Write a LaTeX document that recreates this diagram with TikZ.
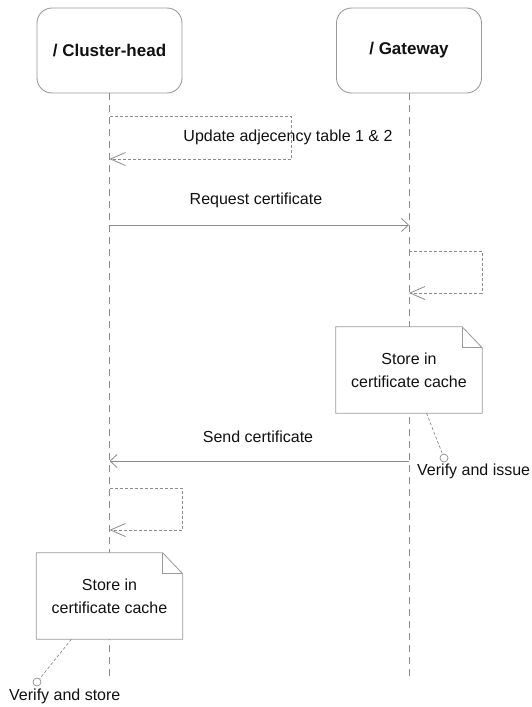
\documentclass[tikz,border=0pt]{standalone}
\usepackage{fontspec}
\setmainfont{Liberation Sans}
\usetikzlibrary{arrows.meta,calc}

\definecolor{linegray}{HTML}{8C8C8C}
\definecolor{boxgray}{HTML}{9A9A9A}
\definecolor{txt}{HTML}{111111}

\tikzset{
  lifehead/.style={draw=boxgray, line width=0.9pt, rounded corners=15pt,
    minimum width=145pt, minimum height=85pt, inner sep=0pt,
    font=\fontsize{17}{20}\selectfont\bfseries, text=txt},
  lifeline/.style={draw=linegray, line width=0.8pt, dash pattern=on 7pt off 5pt},
  msg/.style={draw=linegray, line width=0.8pt,
    -{Straight Barb[length=7pt,width=13pt,line width=0.8pt]}},
  selfmsg/.style={draw=linegray, line width=0.8pt, dash pattern=on 3pt off 2pt,
    -{Straight Barb[length=15pt,width=13pt,line width=0.8pt]}},
  label/.style={font=\fontsize{16}{23}\selectfont, text=txt, inner sep=0pt},
  notebody/.style={minimum width=146pt, minimum height=86pt, inner sep=0pt,
    align=center, font=\fontsize{16}{23}\selectfont, text=txt},
  noteline/.style={draw=boxgray, line width=0.8pt},
  anchorline/.style={draw=linegray, line width=0.7pt, dash pattern=on 3pt off 2pt},
  pin/.style={circle, draw=linegray, line width=0.7pt, fill=white,
    minimum size=8pt, inner sep=0pt}
}

\begin{document}
\begin{tikzpicture}[x=1pt, y=-1pt]
  \useasboundingbox (0,0) rectangle (532,707);

  % lifeline heads
  \node[lifehead] (ch) at (109.5,50.5) {/ Cluster-head};
  \node[lifehead] (gw) at (409,50.5) {/ Gateway};

  % lifelines
  \coordinate (chEnd) at (109.5,678);
  \coordinate (gwEnd) at (409,680);
  \draw[lifeline] (ch.south) -- (chEnd);
  \draw[lifeline] (gw.south) -- (gwEnd);

  % self message on the cluster-head: adjacency update
  \coordinate (u1) at (109.5,116);
  \coordinate (u2) at (109.5,159);
  \draw[selfmsg] (u1) -- (291,116) -- (291,159) -- (u2);
  \node[label] (ulab) at (288,137) {Update adjecency table 1 \& 2};

  % request certificate
  \coordinate (r1) at (109.5,225);
  \coordinate (r2) at (409,225);
  \draw[msg] (r1) -- (r2);
  \node[label] (rlab) at (256,200) {Request certificate};

  % self message on the gateway
  \coordinate (g1) at (409,251);
  \coordinate (g2) at (409,293);
  \draw[selfmsg] (g1) -- (482,251) -- (482,293) -- (g2);

  % gateway note
  \node[notebody] (gnote) at (409,370) {Store in\\certificate cache};
  \draw[noteline, fill=white] (gnote.north west) -- ($(gnote.north east)+(-20,0)$)
    -- ($(gnote.north east)+(0,21)$) -- (gnote.south east) -- (gnote.south west) -- cycle;
  \draw[noteline] ($(gnote.north east)+(-20,0)$) -- ($(gnote.north east)+(-20,21)$)
    -- ($(gnote.north east)+(0,21)$);
  \node[notebody] at (gnote) {Store in\\certificate cache};
  \node[pin] (gpin) at (444,458) {};
  \draw[anchorline] ($(gnote.south west)!0.62!(gnote.south east)$) -- (gpin);
  \node[label, anchor=west] (glab) at (417,471) {Verify and issue};

  % send certificate
  \coordinate (s1) at (409,461);
  \coordinate (s2) at (109.5,461);
  \draw[msg] (s1) -- (s2);
  \node[label] (slab) at (258,437) {Send certificate};

  % self message on the cluster-head
  \coordinate (c1) at (109.5,488);
  \coordinate (c2) at (109.5,530);
  \draw[selfmsg] (c1) -- (182,488) -- (182,530) -- (c2);

  % cluster-head note
  \node[notebody] (cnote) at (109.5,596) {Store in\\certificate cache};
  \draw[noteline, fill=white] (cnote.north west) -- ($(cnote.north east)+(-20,0)$)
    -- ($(cnote.north east)+(0,21)$) -- (cnote.south east) -- (cnote.south west) -- cycle;
  \draw[noteline] ($(cnote.north east)+(-20,0)$) -- ($(cnote.north east)+(-20,21)$)
    -- ($(cnote.north east)+(0,21)$);
  \node[notebody] at (cnote) {Store in\\certificate cache};
  \node[pin] (cpin) at (37,682) {};
  \draw[anchorline] ($(cnote.south west)!0.24!(cnote.south east)$) -- (cpin);
  \node[label, anchor=west] (clab) at (9,696) {Verify and store};
\end{tikzpicture}
\end{document}
